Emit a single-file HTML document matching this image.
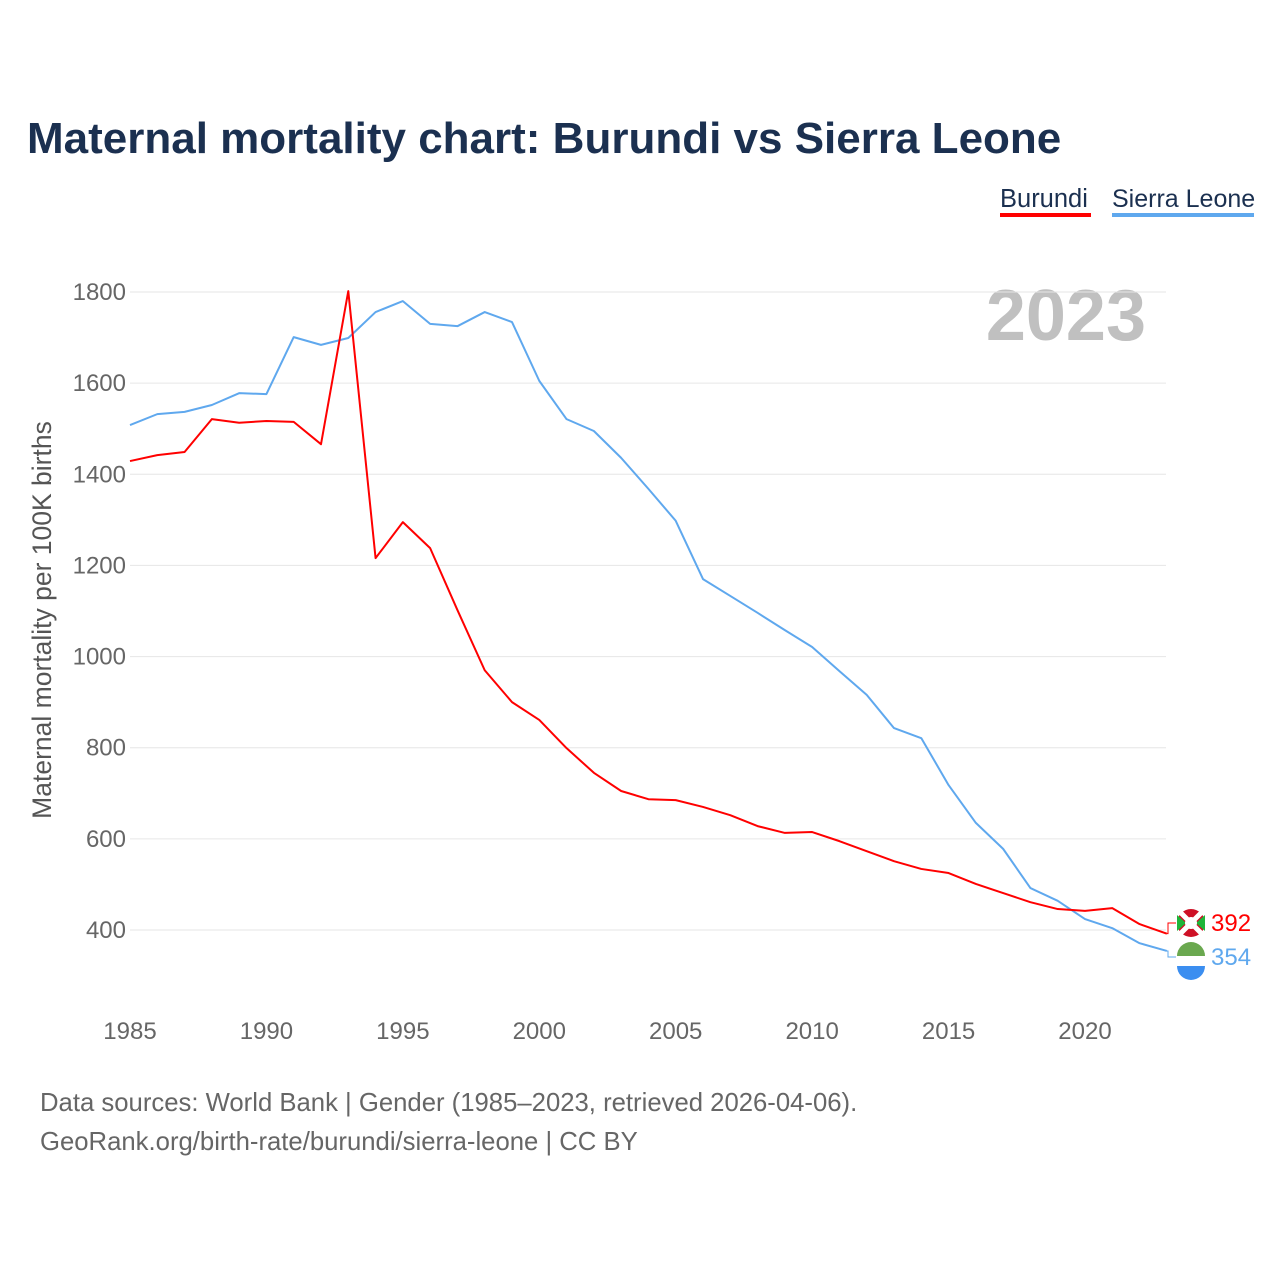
<!DOCTYPE html>
<html><head><meta charset="utf-8"><style>
html,body{margin:0;padding:0;background:#fff;}
body{width:1280px;height:1280px;position:relative;font-family:"Liberation Sans",sans-serif;overflow:hidden;}
</style></head><body>
<svg id="chart" width="1280" height="1280" xmlns="http://www.w3.org/2000/svg" style="position:absolute;left:0;top:0">
<text x="27" y="153" font-size="44" font-weight="bold" fill="#1b3050">Maternal mortality chart: Burundi vs Sierra Leone</text>
<g><text x="1000" y="207" font-size="25.5" fill="#1b3050">Burundi</text><rect x="1000" y="213" width="91" height="4" fill="#ff0000"/></g>
<g><text x="1112" y="207" font-size="25" fill="#1b3050">Sierra Leone</text><rect x="1112" y="213" width="142" height="4" fill="#5fa8ee"/></g>
<text x="1146" y="340" font-size="72" font-weight="bold" fill="#c0c0c0" text-anchor="end">2023</text>
<text transform="translate(51,620) rotate(-90)" font-size="26.5" fill="#555" text-anchor="middle">Maternal mortality per 100K births</text>
<g id="grid"></g><g id="lines"></g>
<text x="40" y="1111" font-size="25.7" fill="#666">Data sources: World Bank | Gender (1985–2023, retrieved 2026-04-06).</text>
<text x="40" y="1150" font-size="25.7" fill="#666">GeoRank.org/birth-rate/burundi/sierra-leone | CC BY</text>
</svg>
<script>
const years=[];for(let y=1985;y<=2023;y++)years.push(y);
const burundi=[1429,1442,1449,1521,1513,1517,1515,1466,1802,1216,1295,1238,1102,970,900,861,799,745,705,687,685,670,652,628,613,615,595,573,551,534,525,501,481,461,446,442,448,413,392];
const sierraLeone=[1508,1532,1537,1552,1578,1576,1701,1684,1699,1756,1780,1730,1725,1756,1734,1605,1521,1495,1436,1368,1298,1170,1133,1096,1058,1021,968,916,843,821,718,635,578,492,464,424,404,371,354];
const yTicks=[400,600,800,1000,1200,1400,1600,1800];
const xTicks=[1985,1990,1995,2000,2005,2010,2015,2020];
const X=y=>130+(y-1985)*(955/35);
const Y=v=>930-(v-400)*(638/1400);
const NS="http://www.w3.org/2000/svg";
const grid=document.getElementById('grid'),lines=document.getElementById('lines');
function mk(tag,attrs,parent){const e=document.createElementNS(NS,tag);for(const k in attrs)e.setAttribute(k,attrs[k]);parent.appendChild(e);return e;}
yTicks.forEach(v=>{
 const l=mk('line',{x1:130,x2:1166,y1:Y(v),y2:Y(v),stroke:'#e6e6e6','stroke-width':1},grid);
 
 
 const t=mk('text',{x:126,y:Y(v)+8,'font-size':24,fill:'#666','text-anchor':'end'},grid);t.textContent=v;
 
 
});
xTicks.forEach(v=>{
 const t=mk('text',{x:X(v),y:1039,'font-size':24,fill:'#666','text-anchor':'middle'},grid);t.textContent=v;
 
 
});
function series(data,color,name){
 const p=mk('polyline',{points:data.map((v,i)=>X(years[i])+','+Y(v)).join(' '),fill:'none',stroke:color,'stroke-width':2,'stroke-linejoin':'round'},lines);
 
 
}
series(sierraLeone,'#5fa8ee','sierra-leone');
series(burundi,'#ff0000','burundi');
const bl=Y(burundi[burundi.length-1]),sl=Y(sierraLeone[sierraLeone.length-1]);
const by=923,sy=957;
mk('polyline',{points:`${X(2023)},${bl} 1168,${bl} 1168,${by} 1176,${by}`,fill:'none',stroke:'#ff0000','stroke-width':1},lines);
mk('polyline',{points:`${X(2023)},${sl} 1168,${sl} 1168,${sy} 1176,${sy}`,fill:'none',stroke:'#5fa8ee','stroke-width':1},lines);
const f1=mk('g',{},lines);


mk('circle',{cx:1191,cy:by,r:14,fill:'#ce1126'},f1);
mk('path',{d:`M1177,${by-14}L1205,${by+14}M1205,${by-14}L1177,${by+14}`,stroke:'#fff','stroke-width':5},f1);
mk('path',{d:`M1177,${by-8}L1186,${by}L1177,${by+8}Z M1205,${by-8}L1196,${by}L1205,${by+8}Z`,fill:'#1eb53a'},f1);
mk('circle',{cx:1191,cy:by,r:6,fill:'#fff'},f1);
const f2=mk('g',{},lines);


mk('circle',{cx:1191,cy:sy+4,r:14,fill:'#fff'},f2);
mk('path',{d:`M1177,${sy-1}A14,14 0 0 1 1205,${sy-1}Z`,fill:'#6aa84f'},f2);
mk('path',{d:`M1177,${sy+9}L1205,${sy+9}A14,14 0 0 1 1177,${sy+9}Z`,fill:'#3b8ef0'},f2);
const t1=mk('text',{x:1211,y:by+8,'font-size':24,fill:'#ff0000'},lines);t1.textContent=burundi[burundi.length-1];


const t2=mk('text',{x:1211,y:sy+8,'font-size':24,fill:'#5fa8ee'},lines);t2.textContent=sierraLeone[sierraLeone.length-1];


</script>
</body></html>
